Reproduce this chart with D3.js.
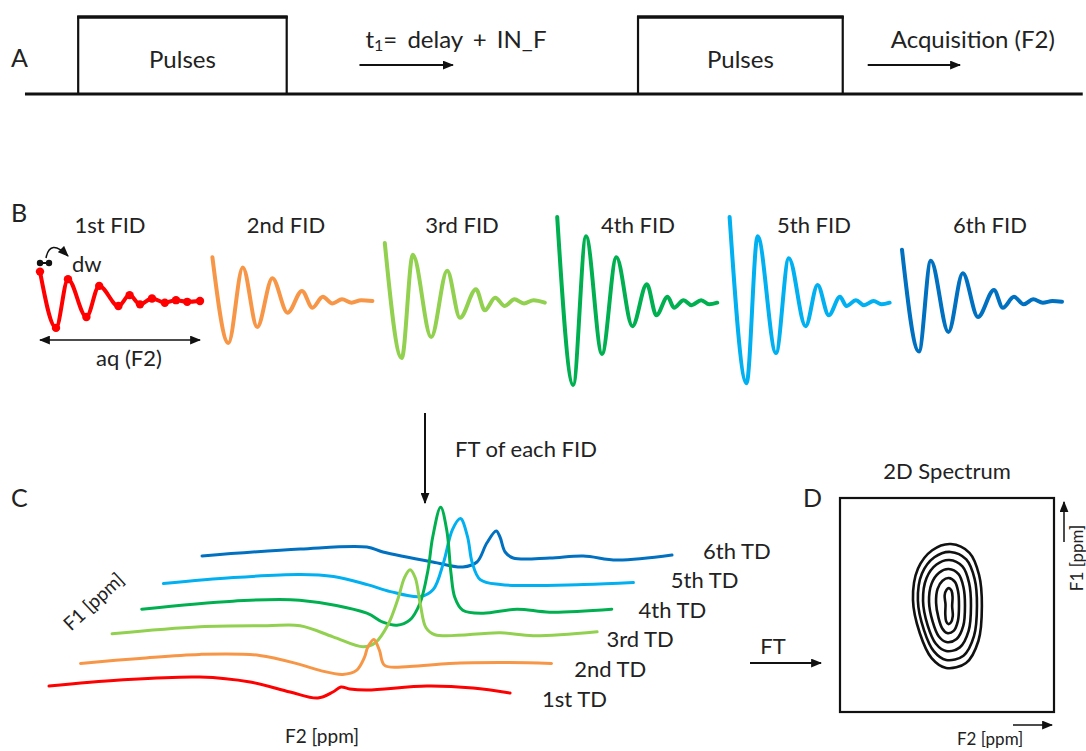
<!DOCTYPE html>
<html><head><meta charset="utf-8">
<script src="https://cdn.jsdelivr.net/npm/d3@7"></script>
<style>
body{margin:0;background:#fff}
svg{display:block}
text{font-family:Lato,'Open Sans',sans-serif;fill:#222}
</style>
</head><body>
<svg id="chart" width="1086" height="751"></svg>
<script>
// ---------------- DATA ----------------
// Panel A: pulse sequence (time units 0..100)
const seqBlocks = [
  {label: "Pulses", start: 7.2, end: 26.4},
  {label: "Pulses", start: 58.75, end: 77.6}
];
const seqArrows = [
  {label: "t", sub: "1", rest: "= delay + IN_F", start: 33.1, end: 41.7},
  {label: "Acquisition (F2)", sub: "", rest: "", start: 79.9, end: 88.4}
];

// Panel B: FIDs  [time fraction of aq, relative amplitude]
const fidLabels = ["1st FID", "2nd FID", "3rd FID", "4th FID", "5th FID", "6th FID"];
const fid1 = [[0,.35],[.1,-.32],[.175,.26],[.29,-.19],[.37,.18],[.49,-.06],[.56,.07],[.625,-.04],[.7,.03],[.78,-.02],[.85,.01],[.92,-.01],[1,0]];
const fid2 = [[0,.52],[.1,-.5],[.19,.4],[.28,-.31],[.375,.27],[.47,-.14],[.56,.12],[.625,-.08],[.69,.05],[.75,-.03],[.81,.02],[.87,-.02],[.93,.01],[1,0]];
const fid3 = [[0,.69],[.106,-.68],[.175,.55],[.29,-.43],[.39,.36],[.47,-.2],[.57,.14],[.625,-.11],[.69,.04],[.75,-.06],[.81,.02],[.87,-.03],[.93,.01],[1,-.02]];
const fid4 = [[0,1],[.1,-1],[.18,.77],[.28,-.63],[.37,.52],[.47,-.3],[.56,.2],[.62,-.17],[.69,.05],[.73,-.08],[.79,.01],[.84,-.05],[.9,.01],[.95,-.04],[1,-.02]];
const fid5 = [[0,1],[.106,-.98],[.175,.77],[.29,-.62],[.37,.51],[.475,-.3],[.55,.19],[.62,-.17],[.69,.05],[.73,-.06],[.79,.01],[.84,-.05],[.9,0],[.95,-.04],[1,-.02]];
const fid6 = [[0,.61],[.106,-.6],[.18,.48],[.29,-.37],[.38,.33],[.475,-.19],[.575,.13],[.63,-.08],[.7,.05],[.76,-.04],[.82,.02],[.88,-.02],[.94,0],[1,-.01]];
const fids = [fid1, fid2, fid3, fid4, fid5, fid6];

// Panel C: 1D spectra after FT  [F2 (ppm-like units), intensity]
const tdLabels = ["1st TD", "2nd TD", "3rd TD", "4th TD", "5th TD", "6th TD"];
const spec1 = [[0,0],[1.51,6],[3.21,9],[4.28,4],[5.13,-6],[5.72,-12],[6.04,-6],[6.21,-1],[6.4,-3],[6.77,-4],[8.04,0],[9.02,-2],[9.81,-7]];
const spec2 = [[.02,-4],[1.28,1],[2.55,5],[3.83,4],[4.68,-5],[5.11,-11],[5.6,-15],[5.89,-11],[6.06,2],[6.13,12],[6.26,20],[6.38,9],[6.49,-6],[7.02,-7],[7.87,-4],[8.94,-3],[10.04,-4]];
const spec3 = [[.04,-1],[1.91,6],[3.34,7],[4.04,7],[4.74,-4],[5.38,-14],[5.64,-10],[5.91,8],[6.13,35],[6.26,55],[6.38,63],[6.49,55],[6.6,28],[6.72,5],[6.91,-2],[8.3,0],[9,-3],[10.36,1]];
const spec4 = [[.02,-3],[1.96,5],[3.38,6],[4.81,-7],[5.15,-16],[5.45,-19],[5.72,-14],[5.94,3],[6.11,36],[6.21,69],[6.38,99],[6.51,76],[6.6,33],[6.68,9],[6.85,-4],[7.28,-7],[8,-3],[8.7,-6],[10.02,-3]];
const spec5 = [[-.17,-4],[1.32,2],[2.74,5],[3.45,3],[4.17,-5],[4.66,-12],[5.3,-17],[5.57,-10],[5.79,17],[5.98,50],[6.15,61],[6.3,43],[6.4,17],[6.57,0],[7,-5],[8.77,-5],[9.83,-3]];
const spec6 = [[0,-3],[2.09,4],[3.51,6],[3.85,1],[4.91,-9],[5.55,-14],[5.85,-9],[6.06,10],[6.26,22],[6.34,16],[6.45,1],[6.62,-5],[7.4,-5],[8.11,-3],[8.83,-7],[10,-2]];
const spectra = [spec1, spec2, spec3, spec4, spec5, spec6];

// Panel D: contour levels of the 2D spectrum [F2, F1] (box units 0..100)
const contour1 = [[51.8,78.5],[60.5,74.4],[65,64],[66.3,49.5],[64.7,33.3],[58.9,22.9],[49.6,20.6],[42.8,25.2],[37.3,36.8],[34.1,52.4],[36.4,66.9],[43.1,75.6]];
const contour2 = [[51.6,74.8],[59,71.3],[62.9,62.2],[64,49.6],[62.6,35.4],[57.7,26.3],[49.6,24.3],[43.9,28.3],[39.2,38.4],[36.4,52.1],[38.3,64.7],[44.1,72.3]];
const contour3 = [[51.1,71],[57.2,68],[60.3,60.4],[61.2,49.8],[60.1,37.9],[56,30.2],[49.6,28.5],[44.8,31.9],[41,40.4],[38.8,51.9],[40.4,62.5],[45.1,68.9]];
const contour4 = [[50.8,66.8],[55.4,64.4],[57.7,58.3],[58.4,49.8],[57.6,40.2],[54.5,34.1],[49.7,32.7],[46.1,35.4],[43.3,42.2],[41.6,51.5],[42.8,60],[46.3,65.1]];
const contour5 = [[50.8,62.6],[53.7,60.8],[55.2,56.2],[55.6,49.8],[55.1,42.6],[53.1,37.9],[50,36.9],[47.8,39],[46,44.1],[44.9,51],[45.6,57.5],[47.9,61.3]];
const contour6 = [[50.9,57.9],[52.1,56.7],[52.6,53.7],[52.4,49.5],[52.7,44.8],[51.8,41.8],[50.6,41.1],[49.6,42.4],[49.2,45.8],[49.3,50.3],[48.9,54.5],[49.8,57.1]];
const contours = [contour1, contour2, contour3, contour4, contour5, contour6];

const colors = ["#ff0000", "#f79646", "#92d050", "#00b050", "#00b0f0", "#0070c0"];

// ---------------- DRAWING ----------------
const svg = d3.select("#chart");
const FS = 22;

const defs = svg.append("defs");
defs.append("marker").attr("id", "ah").attr("markerUnits", "userSpaceOnUse")
  .attr("viewBox", "0 0 10 8").attr("markerWidth", 11).attr("markerHeight", 9)
  .attr("refX", 9).attr("refY", 4).attr("orient", "auto-start-reverse")
  .append("path").attr("d", "M0,0L10,4L0,8Z").attr("fill", "#111");

function arrow(x1, y1, x2, y2, both) {
  const l = svg.append("line").attr("x1", x1).attr("y1", y1).attr("x2", x2).attr("y2", y2)
    .attr("stroke", "#111").attr("stroke-width", 2).attr("marker-end", "url(#ah)");
  if (both) l.attr("marker-start", "url(#ah)");
  return l;
}
function label(txt, x, y, opts = {}) {
  return svg.append("text").attr("x", x).attr("y", y)
    .attr("font-size", opts.size || FS).attr("text-anchor", opts.anchor || "start")
    .attr("dominant-baseline", "central").text(txt);
}

// Panel letters
label("A", 11, 57, {size: 25}); label("B", 11, 212, {size: 25}); label("C", 11, 497, {size: 25}); label("D", 803, 497, {size: 25});

// ---- Panel A ----
const xA = d3.scaleLinear().domain([0, 100]).range([0, 1086]);
const yBase = 94, yTop = 17;
svg.append("line").attr("x1", xA(2.3)).attr("x2", xA(99.7)).attr("y1", yBase).attr("y2", yBase)
  .attr("stroke", "#111").attr("stroke-width", 3);
seqBlocks.forEach(b => {
  svg.append("path").attr("d", `M${xA(b.start)},${yBase}V${yTop}H${xA(b.end)}V${yBase}`)
    .attr("fill", "none").attr("stroke", "#111").attr("stroke-width", 2.2);
  svg.append("line").attr("x1", xA(b.start) - 1).attr("x2", xA(b.end) + 1).attr("y1", yTop).attr("y2", yTop)
    .attr("stroke", "#111").attr("stroke-width", 3.5);
  label(b.label, (xA(b.start) + xA(b.end)) / 2, 58, {anchor: "middle", size: 24});
});
seqArrows.forEach(a => {
  arrow(xA(a.start), 65, xA(a.end), 65);
  const t = svg.append("text").attr("x", xA(a.start) + (a.sub ? 6 : 23)).attr("y", 38)
    .attr("font-size", 24).attr("dominant-baseline", "central");
  t.append("tspan").text(a.label);
  if (a.sub) {
    t.attr("word-spacing", 4);
    t.append("tspan").attr("dy", 6).attr("font-size", 16).text(a.sub);
    t.append("tspan").attr("dy", -6).text(a.rest);
  }
});

// ---- Panel B ----
const fidPos = d3.scalePoint().domain(fidLabels).range([40, 902]);
const fidTitle = d3.scalePoint().domain(fidLabels).range([110, 990]);
const fx = d3.scaleLinear().domain([0, 1]).range([0, 160]);
const fy = d3.scaleLinear().domain([-1, 1]).range([84, -84]);
const fidLine = d3.line().x(d => fx(d[0])).y(d => fy(d[1])).curve(d3.curveMonotoneX);
fidLabels.forEach((lab, i) => {
  label(lab, fidTitle(lab), 224, {anchor: "middle"});
  const g = svg.append("g").attr("transform", `translate(${fidPos(lab)},301)`);
  g.append("path").datum(fids[i]).attr("d", fidLine).attr("fill", "none")
    .attr("stroke", colors[i]).attr("stroke-width", 4).attr("stroke-linejoin", "round").attr("stroke-linecap", "round");
  if (i === 0) {
    g.selectAll("circle").data(fids[i]).join("circle")
      .attr("cx", d => fx(d[0])).attr("cy", d => fy(d[1])).attr("r", 4.2).attr("fill", colors[0]);
  }
});
// dw annotation
svg.append("line").attr("x1", 40).attr("x2", 49).attr("y1", 263).attr("y2", 263).attr("stroke", "#111").attr("stroke-width", 2);
svg.selectAll(".dwdot").data([40, 49]).join("circle").attr("cx", d => d).attr("cy", 263).attr("r", 3.2).attr("fill", "#111");
svg.append("path").attr("d", "M46,258 Q50,238 68,256").attr("fill", "none").attr("stroke", "#111")
  .attr("stroke-width", 1.5).attr("marker-end", "url(#ah)");
label("dw", 72, 263);
// aq arrow
arrow(40, 340, 200, 340, true).attr("stroke-width", 1.5);
label("aq (F2)", 129, 357, {anchor: "middle"});

// FT of each FID
arrow(425, 413, 425, 503);
label("FT of each FID", 455, 448);

// ---- Panel C ----
const sx = d3.scaleLinear().domain([0, 10]).range([0, 470]);
const sy = d3.scaleLinear().domain([0, 100]).range([0, -100]);
const stackX = d3.scaleLinear().domain([0, 5]).range([49, 202]);
const stackY = d3.scaleLinear().domain([0, 5]).range([686, 553]);
const tdLabX = d3.scalePoint().domain(tdLabels).range([542, 703]);
const tdLabY = d3.scaleLinear().domain([0, 5]).range([698, 550]);
const specLine = d3.line().x(d => sx(d[0])).y(d => sy(d[1])).curve(d3.curveCatmullRom.alpha(0.5));
for (let i = 5; i >= 0; i--) {
  svg.append("g").attr("transform", `translate(${stackX(i)},${stackY(i)})`)
    .append("path").datum(spectra[i]).attr("d", specLine).attr("fill", "none")
    .attr("stroke", colors[i]).attr("stroke-width", 3).attr("stroke-linecap", "round");
}
tdLabels.forEach((lab, i) => label(lab, tdLabX(lab), tdLabY(i)));
label("F1 [ppm]", 93, 601, {size: 19, anchor: "middle"}).attr("transform", "rotate(-43,93,601)");
label("F2 [ppm]", 322, 735, {size: 19, anchor: "middle"});

// FT arrow
arrow(750, 663, 821, 663);
label("FT", 773, 645, {anchor: "middle"});

// ---- Panel D ----
const dx = d3.scaleLinear().domain([0, 100]).range([840, 1054]);
const dy = d3.scaleLinear().domain([0, 100]).range([712, 498]);
svg.append("rect").attr("x", dx(0)).attr("y", dy(100)).attr("width", dx(100) - dx(0)).attr("height", dy(0) - dy(100))
  .attr("fill", "none").attr("stroke", "#111").attr("stroke-width", 2.2);
label("2D Spectrum", 947, 470, {anchor: "middle"});
const cLine = d3.line().x(d => dx(d[0])).y(d => dy(d[1])).curve(d3.curveCatmullRomClosed.alpha(0.5));
svg.selectAll(".ct").data(contours).join("path").attr("class", "ct").attr("d", cLine)
  .attr("fill", "none").attr("stroke", "#111").attr("stroke-width", 2.6);
arrow(1064, 542, 1064, 502).attr("stroke-width", 1.5);
label("F1 [ppm]", 1076, 558, {size: 17, anchor: "middle"}).attr("transform", "rotate(-90,1076,558)");
arrow(1013, 725, 1052, 725).attr("stroke-width", 1.5);
svg.append("text").attr("x", 957).attr("y", 745).attr("font-size", 17).text("F2 [ppm]");
</script>
</body></html>
